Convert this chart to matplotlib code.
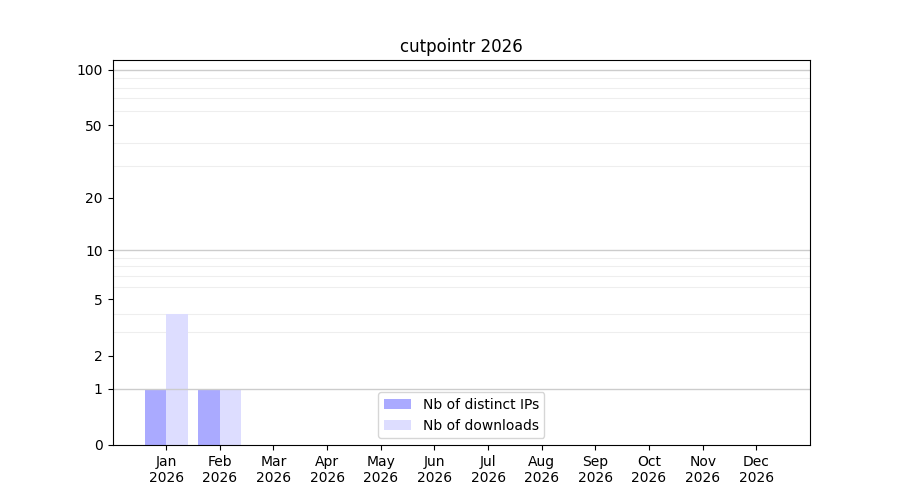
import numpy as np
import matplotlib
matplotlib.use("Agg")
import matplotlib.pyplot as plt

# monthly counts for cutpointr, 2026
months = ["Jan", "Feb", "Mar", "Apr", "May", "Jun",
          "Jul", "Aug", "Sep", "Oct", "Nov", "Dec"]
year = "2026"
distinct_ips = [1, 1, 0, 0, 0, 0, 0, 0, 0, 0, 0, 0]
downloads = [4, 1, 0, 0, 0, 0, 0, 0, 0, 0, 0, 0]

ytick_vals = [0, 1, 2, 5, 10, 20, 50, 100]
minor_vals = [2, 3, 4, 5, 6, 7, 8, 9, 20, 30, 40, 50, 60, 70, 80, 90]
major_grid = [1, 10, 100]


def fwd(y):
    return np.log1p(np.maximum(y, 0))


def inv(y):
    return np.expm1(y)


fig, ax = plt.subplots(figsize=(9, 5), dpi=100)
ax.set_axisbelow(True)

x = np.arange(len(months))
w = 0.4
ax.bar(x - w / 2, distinct_ips, w, color="#aaaaff", label="Nb of distinct IPs", zorder=1)
ax.bar(x + w / 2, downloads, w, color="#ddddff", label="Nb of downloads", zorder=1)

ax.set_yscale("function", functions=(fwd, inv))
ax.set_ylim(0, 113)
ax.set_xlim(-1, 12)

ax.set_yticks(ytick_vals)
ax.set_yticklabels([str(v) for v in ytick_vals])
ax.set_yticks(minor_vals, minor=True)
ax.tick_params(axis="y", which="minor", length=0)
ax.yaxis.grid(True, which="minor", color="#eeeeee", linewidth=0.8)
# darker lines at the decades, drawn over the bars
for v in major_grid:
    ax.axhline(v, color="#cccccc", linewidth=1, zorder=2)

ax.set_xticks(x)
ax.set_xticklabels([m + "\n" + year for m in months])

ax.set_title("cutpointr 2026")
ax.legend(loc="lower center")

fig.savefig("out.png")
